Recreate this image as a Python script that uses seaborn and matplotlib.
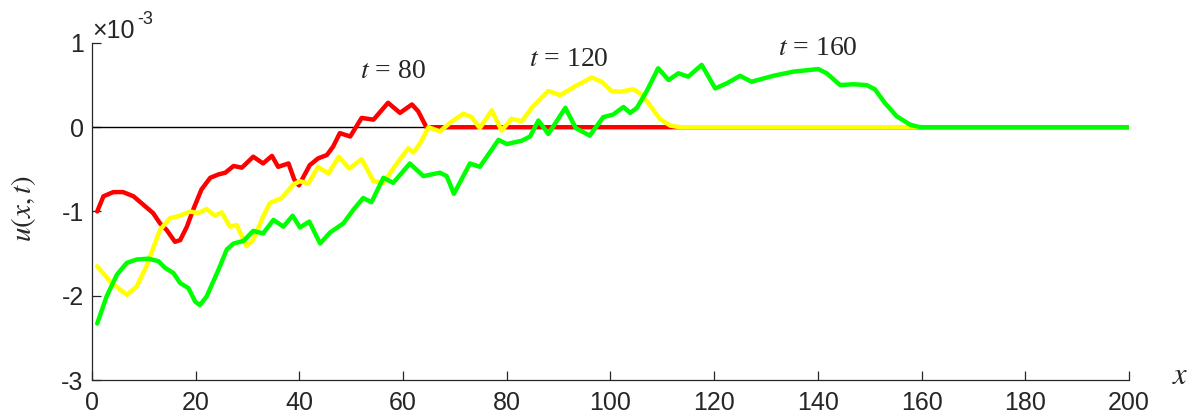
import matplotlib
matplotlib.use("Agg")
import matplotlib.pyplot as plt
import seaborn as sns
import pandas as pd

# values, u in units of 1e-3
x80 = [1, 2.2, 4.1, 6, 8, 9.9, 11.8, 13.1, 14.4, 16, 17, 18.3, 19.5, 21.1, 22.8, 24.4,
       25.7, 27.3, 28.9, 31.1, 33, 34.7, 35.9, 37.9, 39, 39.9, 42, 43.6, 45.3, 46.5,
       47.8, 49.8, 52, 54.3, 57.1, 59.4, 61.7, 62.9, 64.5, 66, 80, 100, 120, 150, 200]
u80 = [-1.0, -0.82, -0.77, -0.77, -0.82, -0.92, -1.02, -1.14, -1.22, -1.36, -1.34, -1.18,
       -0.98, -0.74, -0.60, -0.56, -0.54, -0.46, -0.48, -0.35, -0.43, -0.34, -0.47, -0.43,
       -0.62, -0.69, -0.45, -0.37, -0.33, -0.23, -0.07, -0.11, 0.11, 0.09, 0.29, 0.17,
       0.27, 0.19, 0.0, 0.0, 0.0, 0.0, 0.0, 0.0, 0.0]

x120 = [1, 3.5, 6.7, 8.6, 10.5, 13.1, 15, 17, 18.9, 20.5, 22.1, 23.7, 25, 26.6, 27.9,
        29.8, 31.1, 33, 34.3, 36.6, 38.8, 40.1, 41.7, 43.6, 45.6, 47.6, 49.6, 52, 54.3,
        56.2, 58.8, 61, 62, 63.3, 64.9, 67.1, 69, 71.6, 73.2, 74.8, 77.1, 79, 80.9, 82.9,
        84.8, 88, 90.3, 93.3, 96.4, 98.3, 100.2, 101.8, 104.4, 106, 107.6, 109.5, 111.5,
        113.4, 130, 160, 200]
u120 = [-1.65, -1.83, -1.99, -1.89, -1.65, -1.22, -1.08, -1.05, -1.0, -1.02, -0.97, -1.05,
        -1.01, -1.18, -1.16, -1.41, -1.34, -1.06, -0.90, -0.84, -0.68, -0.64, -0.67, -0.47,
        -0.55, -0.35, -0.49, -0.38, -0.64, -0.66, -0.43, -0.25, -0.30, -0.19, 0.0, -0.05,
        0.05, 0.16, 0.12, -0.01, 0.20, -0.04, 0.10, 0.07, 0.23, 0.43, 0.38, 0.49, 0.59,
        0.54, 0.43, 0.42, 0.45, 0.39, 0.26, 0.10, 0.02, 0.0, 0.0, 0.0, 0.0]

x160 = [1, 2.8, 4.8, 6.7, 8.6, 10.9, 12.8, 14.1, 15.7, 17, 18.6, 19.9, 20.8, 22.1, 24.4,
        26, 27.3, 29.2, 31.1, 33, 35, 36.9, 38.7, 40.1, 41.9, 44, 45.9, 48.5, 50.4, 52.3,
        53.9, 56.2, 58.1, 61.3, 63.9, 67.1, 68.4, 69.8, 72.9, 74.8, 78.4, 80, 82.9, 84.5,
        86.1, 88, 91.3, 93.3, 96, 98.6, 100.5, 102.5, 103.8, 105.1, 107, 109.2, 111.2,
        113.1, 115, 117.6, 120.2, 122.4, 125, 127.2, 131.4, 135.3, 140.1, 141.7, 144.3,
        146.8, 149.4, 151, 152.9, 155.2, 157.8, 159.7, 162, 180, 200]
u160 = [-2.33, -2.01, -1.75, -1.61, -1.57, -1.56, -1.59, -1.67, -1.73, -1.85, -1.91, -2.07,
        -2.11, -2.01, -1.69, -1.45, -1.38, -1.35, -1.23, -1.26, -1.10, -1.18, -1.05, -1.19,
        -1.12, -1.38, -1.25, -1.14, -0.98, -0.84, -0.89, -0.60, -0.66, -0.43, -0.58, -0.54,
        -0.58, -0.79, -0.43, -0.47, -0.15, -0.20, -0.16, -0.11, 0.08, -0.08, 0.23, -0.01,
        -0.10, 0.12, 0.15, 0.24, 0.17, 0.23, 0.43, 0.70, 0.56, 0.64, 0.60, 0.74, 0.46,
        0.52, 0.61, 0.54, 0.61, 0.66, 0.69, 0.64, 0.50, 0.51, 0.50, 0.45, 0.29, 0.13,
        0.03, 0.0, 0.0, 0.0, 0.0]

times = ["t = 80", "t = 120", "t = 160"]
colors = ["#ff0000", "#ffff00", "#00ff00"]
label_pos = [(58, 0.66), (92, 0.80), (140, 0.94)]
label_txt = ["$t$ = 80", "$t$ = 120", "$t$ = 160"]

frames = []
for name, xs, us in zip(times, [x80, x120, x160], [u80, u120, u160]):
    frames.append(pd.DataFrame({"x": xs, "u": us, "t": name}))
df = pd.concat(frames, ignore_index=True)

sns.set_style("ticks")
plt.rcParams["font.family"] = ["Liberation Sans", "DejaVu Sans"]
plt.rcParams["axes.unicode_minus"] = False
plt.rcParams["mathtext.fontset"] = "stix"

fig = plt.figure(figsize=(11.92, 4.17), dpi=100)
ax = fig.add_axes([0.0772, 0.0887, 0.8699, 0.8083])

ax.plot([0, 200], [0, 0], color="black", lw=1.0, zorder=1)
sns.lineplot(data=df, x="x", y="u", hue="t", palette=colors, sort=False,
             estimator=None, linewidth=3.2, legend=False, ax=ax, zorder=2)

ax.set_xlim(0, 200)
ax.set_ylim(-3, 1)
ax.set_xticks(range(0, 201, 20))
ax.set_yticks([-3, -2, -1, 0, 1])
ax.set_xlabel("")
ax.set_ylabel("")
sns.despine(ax=ax)
for s in ["left", "bottom"]:
    ax.spines[s].set_color("#262626")
    ax.spines[s].set_linewidth(0.9)
ax.tick_params(direction="in", length=6.5, width=0.9, color="#262626",
               labelsize=18, labelcolor="#262626")
ax.tick_params(axis="x", pad=8)
ax.tick_params(axis="y", pad=6)

for (px, py), txt in zip(label_pos, label_txt):
    ax.text(px, py, txt, fontsize=20, family="Liberation Serif",
            ha="center", va="center")

ax.text(1.042, 0.012, "$x$", transform=ax.transAxes, fontsize=22, ha="left", va="center")
fig.text(0.020, 0.50, "$u(x,t)$", rotation=90, fontsize=21, ha="center", va="center")
ax.text(0.0, 1.0, "×10", transform=ax.transAxes, fontsize=18, color="#262626",
        ha="left", va="bottom")
ax.text(0.044, 1.045, "-3", transform=ax.transAxes, fontsize=13, color="#262626",
        ha="left", va="bottom")

fig.savefig("out.png", dpi=100)
